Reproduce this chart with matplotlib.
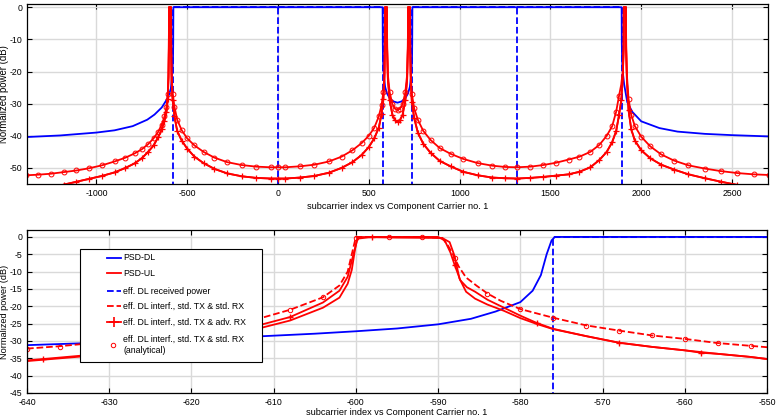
import numpy as np
import matplotlib
matplotlib.use("Agg")
import matplotlib.pyplot as plt
from matplotlib.lines import Line2D
from matplotlib.patches import Rectangle

plt.rcParams['font.family'] = ['Liberation Sans', 'DejaVu Sans']
plt.rcParams['axes.unicode_minus'] = False

BLUE = "#0000ff"
RED = "#ff0000"
FLOOR = -300  # "minus infinity" for the received-power curve
nan = np.nan

# ---------------- top panel: whole band ----------------
top_dl_x = [-1390, -1200, -1000, -900, -800, -720, -680, -640, -612, -600,
            -590, -584, -580, -578, -577, -576.5, -576, 576, 576.5, 577,
            578, 580, 584, 590, 600, 615, 635, 658, 681, 701,
            716, 726, 732, 736, 738, 739, 739.5, 740, 1892, 1892.5,
            1893, 1895, 1900, 1906, 1923, 1950, 2000, 2100, 2200, 2350,
            2500, 2705]
top_dl_y = [-40.4, -39.9, -39.0, -38.3, -37.0, -35.0, -33.4, -31.2, -28.7, -27.2,
            -25.3, -22.0, -18.5, -15.5, -11.0, -5.0, 0, 0, -5.0, -11.0,
            -15.5, -18.5, -22.0, -24.8, -26.8, -28.3, -29.3, -29.7, -29.3, -28.3,
            -26.8, -24.8, -22.0, -18.5, -15.5, -11.0, -5.0, 0, 0, -5.0,
            -11.0, -17.0, -21.0, -24.0, -29.5, -32.5, -35.5, -37.6, -38.7, -39.4,
            -39.8, -40.2]

top_eff_x = [-576, -576, 0, 0, nan, 0, 576, 576, nan, 740, 740, 1316, 1316, nan, 1316, 1892, 1892]
top_eff_y = [FLOOR, 0, 0, FLOOR, nan, 0, 0, FLOOR, nan, FLOOR, 0, 0, FLOOR, nan, 0, 0, FLOOR]

top_x = [-1390, -1320, -1250, -1180, -1110, -1040, -970, -900, -840, -790,
         -750, -715, -685, -660, -640, -625, -614, -607, -603, -601,
         -600, -594, -589, -588, -586, -580, -570, -555, -530, -500,
         -460, -410, -350, -280, -200, -120, -40, 0, 40, 120,
         200, 280, 350, 410, 460, 500, 530, 555, 570, 580,
         586, 588, 589, 594, 600, 601, 605, 615, 630, 645,
         658, 671, 686, 701, 711, 715, 716, 721, 727, 728,
         731, 737, 750, 770, 800, 840, 890, 950, 1020, 1100,
         1180, 1250, 1316, 1390, 1460, 1530, 1600, 1660, 1720, 1770,
         1810, 1840, 1862, 1878, 1890, 1898, 1903, 1904, 1910, 1916,
         1917, 1921, 1930, 1945, 1965, 2000, 2050, 2110, 2180, 2260,
         2350, 2440, 2530, 2620, 2705]
top_std = [-52.3, -52.1, -51.8, -51.3, -50.8, -50.1, -49.2, -48.0, -46.8, -45.5,
           -44.2, -42.6, -40.8, -38.8, -36.5, -34.0, -31.0, -27.0, -21.0, -12.0,
           0, 0, 0, -12.0, -20.5, -27.0, -31.0, -35.0, -38.3, -40.8,
           -43.0, -45.0, -46.8, -48.2, -49.1, -49.6, -49.8, -49.8, -49.8, -49.5,
           -49.0, -48.0, -46.5, -44.5, -42.3, -40.0, -37.5, -34.0, -30.5, -26.5,
           -20.5, -12.0, 0, 0, 0, -12.0, -21.0, -26.5, -30.2, -31.6,
           -32.0, -31.6, -30.2, -26.5, -21.0, -12.0, 0, 0, 0, -12.0,
           -21.0, -27.0, -31.5, -35.0, -38.5, -41.3, -43.8, -45.6, -47.2, -48.5,
           -49.3, -49.7, -49.8, -49.6, -49.1, -48.4, -47.4, -46.5, -45.0, -42.8,
           -40.0, -37.0, -32.5, -27.5, -24.0, -20.0, -12.0, 0, 0, 0,
           -12.0, -21.0, -28.5, -33.5, -37.0, -40.3, -43.3, -45.8, -47.7, -49.2,
           -50.2, -51.0, -51.6, -52.0, -52.2]
top_adv = [-57.5, -57.0, -56.3, -55.2, -54.3, -53.4, -52.5, -51.4, -50.0, -48.6,
           -47.0, -45.0, -43.0, -40.5, -38.0, -35.3, -32.5, -28.5, -22.0, -13.0,
           0, 0, 0, -13.0, -22.5, -29.0, -34.0, -38.5, -41.5, -44.0,
           -46.5, -48.5, -50.3, -51.7, -52.6, -53.1, -53.3, -53.3, -53.3, -53.0,
           -52.5, -51.5, -50.0, -48.2, -46.0, -43.5, -40.8, -37.5, -33.3, -28.5,
           -22.0, -13.0, 0, 0, 0, -13.0, -22.5, -29.0, -33.5, -35.2,
           -35.7, -35.2, -33.5, -29.0, -22.5, -13.0, 0, 0, 0, -13.0,
           -22.5, -29.5, -34.5, -39.0, -42.5, -45.3, -47.8, -49.5, -51.2, -52.3,
           -53.0, -53.2, -53.3, -53.1, -52.8, -52.4, -52.0, -51.2, -49.8, -47.5,
           -45.0, -42.0, -38.5, -33.5, -29.0, -22.5, -13.0, 0, 0, 0,
           -13.0, -22.5, -32.0, -38.0, -41.5, -44.5, -47.0, -49.0, -50.5, -52.0,
           -53.2, -54.3, -55.3, -56.2, -57.0]

# ---------------- bottom panel: zoom on the UL carrier ----------------
bot_dl_x = [-640, -630, -620, -612, -605, -600, -595, -590, -586, -583,
            -580, -578.5, -577.5, -576.8, -576.2, -575.8, -570, -560, -550]
bot_dl_y = [-31.2, -30.4, -29.5, -28.7, -27.9, -27.2, -26.4, -25.2, -23.6, -21.5,
            -18.8, -15.5, -11.0, -5.0, -1.0, 0, 0, 0, 0]

bot_eff_x = [-576, -576, -550]
bot_eff_y = [FLOOR, 0, 0]

bot_ul_x = [-640, -630, -620, -612, -608, -604, -602, -601, -600.5, -600.1,
            -599.8, -595, -589.5, -588.6, -588, -587.4, -586.6, -585.5, -584, -582,
            -580, -578, -576, -572, -568, -564, -560, -556, -552, -550]
bot_ul_y = [-35.8, -33.8, -30.9, -26.5, -24.1, -20.4, -17.5, -13.5, -9.5, -3.5,
            0, -0.2, -0.3, -1.5, -5.5, -12.0, -15.8, -17.8, -19.5, -21.3,
            -23.4, -25.1, -26.6, -28.6, -30.5, -31.7, -32.7, -33.7, -34.6, -35.2]

bot_std_x = [-640, -636, -632, -628, -624, -620, -616, -612, -608, -604,
             -602, -601, -600.5, -600, -596, -592, -589.5, -588.8, -588.2, -587.5,
             -586.6, -585.3, -584, -582.4, -580, -576, -572, -568, -564, -560,
             -556, -552, -550]
bot_std_y = [-32.2, -31.5, -30.6, -29.6, -28.4, -27.0, -25.5, -23.7, -21.0, -17.4,
             -14.0, -10.0, -5.0, 0, 0, 0, -0.3, -2.5, -5.0, -8.5,
             -11.7, -14.1, -16.3, -18.4, -20.8, -23.3, -25.5, -27.0, -28.4, -29.4,
             -30.6, -31.4, -31.8]

bot_adv_x = [-640, -638, -628, -618, -612, -608, -604, -602, -601, -600.3,
             -599.8, -598, -594, -590, -589.2, -588.5, -588, -587.3, -586.5, -585.5,
             -584, -582, -580, -578, -576, -572, -568, -564, -560, -558,
             -556, -552, -550]
bot_adv_y = [-35.6, -35.2, -33.1, -29.6, -25.6, -23.1, -18.9, -15.5, -11.5, -5.0,
             -0.5, 0, 0, 0, -1.0, -4.5, -8.0, -12.5, -14.5, -15.8,
             -18.1, -20.4, -22.7, -24.8, -26.5, -28.6, -30.5, -31.7, -32.7, -33.4,
             -33.7, -34.6, -35.2]

bot_ana_x = [-640, -636, -632, -628, -624, -620, -616, -612, -608, -604, -600, -596,
             -592, -588, -584, -580, -576, -572, -568, -564, -560, -556, -552]
bot_ana_y = [-32.2, -31.6, -30.8, -29.8, -28.6, -27.2, -25.7, -23.8, -21.0, -17.2, -0.3, 0,
             0, -6.0, -16.5, -20.9, -23.4, -25.6, -27.1, -28.4, -29.5, -30.6, -31.5]

legend_labels = ["PSD-DL", "PSD-UL", "eff. DL received power",
                 "eff. DL interf., std. TX & std. RX",
                 "eff. DL interf., std. TX & adv. RX",
                 "eff. DL interf., std. TX & std. RX\n(analytical)"]

W, H = 777, 417
fig = plt.figure(figsize=(W / 100, H / 100), dpi=100)


def box(l, t, r, b):
    return [l / W, 1 - b / H, (r - l) / W, (b - t) / H]


def style(ax, labelpad, ylab_size):
    ax.grid(True, color="#d9d9d9", lw=1.0)
    ax.set_axisbelow(True)
    ax.tick_params(direction="in", top=True, right=True, length=3.5, width=0.8,
                   labelsize=6.3, pad=3.5)
    for s in ax.spines.values():
        s.set_linewidth(0.9)
    ax.set_xlabel("subcarrier index vs Component Carrier no. 1", fontsize=6.6, labelpad=labelpad)
    ax.set_ylabel("Normalized power (dB)", fontsize=ylab_size, labelpad=0.5)


ax1 = fig.add_axes(box(27, 4, 768, 184))
ax1.plot(top_dl_x, top_dl_y, color=BLUE, lw=1.3)
ax1.plot(top_x, top_adv, color=RED, lw=1.3)  # PSD-UL, same as adv RX at this scale
ax1.plot(top_eff_x, top_eff_y, color=BLUE, lw=1.3, ls="--")
ax1.plot(top_x, top_std, color=RED, lw=1.3)
adv_marks = [i for i, v in enumerate(top_adv) if v < -24]
std_marks = [i for i, v in enumerate(top_std) if v < -24]
ax1.plot(top_x, top_adv, color=RED, lw=1.3, marker="+", ms=4, mew=0.9, markevery=adv_marks)
ax1.plot(top_x, top_std, color=RED, ls="none", marker="o", ms=3.5, mfc="none", mew=0.7,
         markevery=std_marks)
ax1.set_xlim(-1382, 2698)
ax1.set_ylim(-55, 1)
ax1.set_xticks(range(-1000, 2501, 500))
ax1.set_yticks(range(-50, 1, 10))
style(ax1, 3, 6.9)

ax2 = fig.add_axes(box(27, 230, 767, 393))
ax2.plot(bot_dl_x, bot_dl_y, color=BLUE, lw=1.3)
ax2.plot(bot_ul_x, bot_ul_y, color=RED, lw=1.3)
ax2.plot(bot_eff_x, bot_eff_y, color=BLUE, lw=1.3, ls="--")
ax2.plot(bot_std_x, bot_std_y, color=RED, lw=1.3, ls="--")
marks = [i for i, x in enumerate(bot_adv_x) if (x + 638) % 10 == 0]
ax2.plot(bot_adv_x, bot_adv_y, color=RED, lw=1.3, marker="+", ms=5, mew=1.0, markevery=marks)
ax2.plot(bot_ana_x, bot_ana_y, color=RED, ls="none", marker="o", ms=3.2, mfc="none", mew=0.7)
ax2.set_xlim(-640, -550)
ax2.set_ylim(-45, 2)
ax2.set_xticks(range(-640, -549, 10))
ax2.set_yticks(range(-45, 1, 5))
style(ax2, 0.5, 6.6)


# hand-made MATLAB style legend (pixel positions of the reference)
def pa(px, py):
    return ((px - 27) / 740, (393 - py) / 163)


x0, y0 = pa(80, 362)
x1, y1 = pa(262, 249)
ax2.add_patch(Rectangle((x0, y0), x1 - x0, y1 - y0, transform=ax2.transAxes,
                        facecolor="white", edgecolor="black", lw=0.8, zorder=5, clip_on=False))
rows = [258, 273, 291, 306, 322, 345]
styles = [dict(color=BLUE, ls="-"), dict(color=RED, ls="-"), dict(color=BLUE, ls="--"),
          dict(color=RED, ls="--"), dict(color=RED, ls="-", marker="+", ms=7, mew=1.2, markevery=[1]),
          dict(color=RED, ls="none", marker="o", ms=3.2, mfc="none", mew=0.7)]
for py, lab, st in zip(rows, legend_labels, styles):
    if st.get("ls") == "none":
        xs = [pa(113, py)[0]]
        ys = [pa(113, py)[1]]
    else:
        xs = [pa(107, py)[0], pa(114, py)[0], pa(121, py)[0]]
        ys = [pa(107, py)[1]] * 3
    ax2.add_line(Line2D(xs, ys, transform=ax2.transAxes, lw=1.3, zorder=6, clip_on=False, **st))
    tx, ty = pa(123, py)
    ax2.text(tx, ty, lab, transform=ax2.transAxes, fontsize=6.3, va="center", ha="left",
             zorder=6, linespacing=1.3)

fig.savefig("out.png", dpi=100)
